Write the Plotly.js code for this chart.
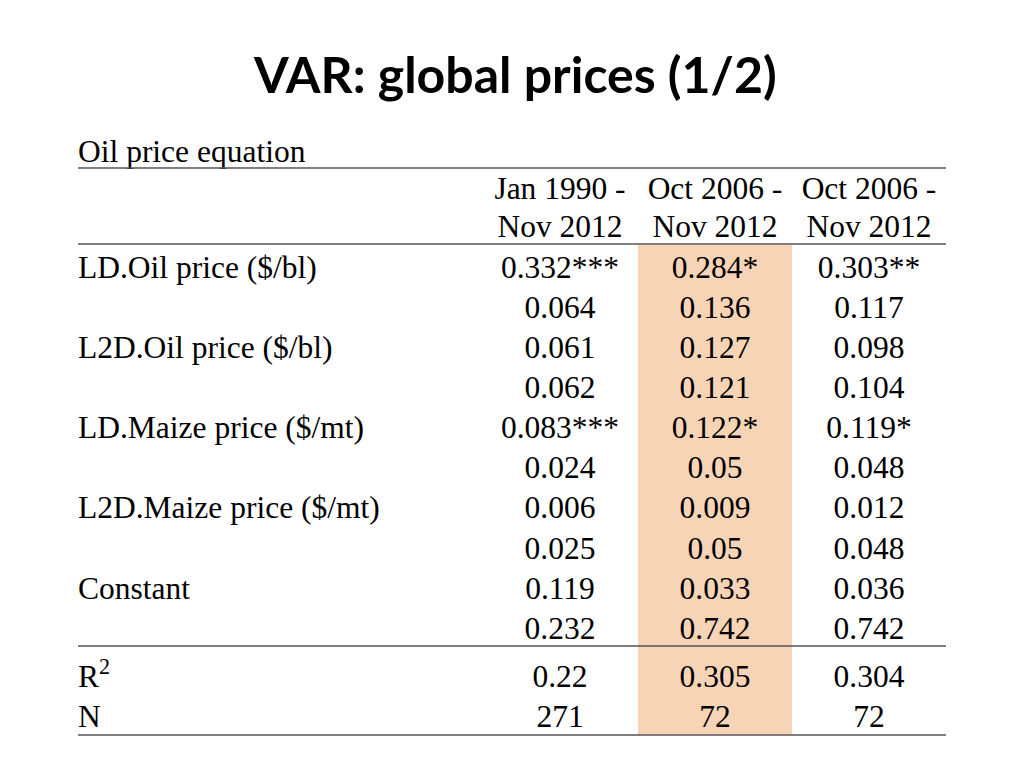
<!DOCTYPE html>
<html>
<head>
<meta charset="utf-8">
<script src="https://cdn.plot.ly/plotly-3.0.1.min.js"></script>
<style>html,body{margin:0;padding:0;background:#fff;}#chart{width:1024px;height:768px;}</style>
</head>
<body>
<div id="chart"></div>
<script>
// ---- data ----
const titleText = "VAR: global prices (1/2)";
const tableCaption = "Oil price equation";
const columnHeadTop = ["Jan 1990 -", "Oct 2006 -", "Oct 2006 -"];
const columnHeadBottom = ["Nov 2012", "Nov 2012", "Nov 2012"];
const rowLabels = ["LD.Oil price ($/bl)", "", "L2D.Oil price ($/bl)", "", "LD.Maize price ($/mt)", "", "L2D.Maize price ($/mt)", "", "Constant", ""];
const col1 = ["0.332***", "0.064", "0.061", "0.062", "0.083***", "0.024", "0.006", "0.025", "0.119", "0.232"];
const col2 = ["0.284*", "0.136", "0.127", "0.121", "0.122*", "0.05", "0.009", "0.05", "0.033", "0.742"];
const col3 = ["0.303**", "0.117", "0.098", "0.104", "0.119*", "0.048", "0.012", "0.048", "0.036", "0.742"];
const statLabels = ["R<sup>2</sup>", "N"];
const stat1 = ["0.22", "271"];
const stat2 = ["0.305", "72"];
const stat3 = ["0.304", "72"];

// ---- layout geometry ----
const colX = [560, 715, 869];
const labelX = 78;
const rowY = rowLabels.map((_, i) => 270 + i * 40.1);
const statY = statLabels.map((_, i) => 679 + i * 40);
const headY = [191, 229];
const serif = "Liberation Serif";
const fs = 31.5;
const ink = "#000000";

const cols = [col1, col2, col3];
const stats = [stat1, stat2, stat3];
const traces = [];

const labX = [], labY = [], labT = [];
rowLabels.forEach((t, i) => { if (t) { labX.push(labelX); labY.push(rowY[i]); labT.push(t); } });

traces.push({
  type: "scatter", mode: "text", x: labX, y: labY, text: labT,
  textposition: "middle right", textfont: {family: serif, size: fs, color: ink}, hoverinfo: "skip", showlegend: false
});
traces.push({
  type: "scatter", mode: "text", x: statLabels.map(() => labelX), y: statY, text: statLabels,
  textposition: "middle right", textfont: {family: serif, size: fs, color: ink}, hoverinfo: "skip", showlegend: false
});
traces.push({
  type: "scatter", mode: "text", x: [labelX], y: [154], text: [tableCaption],
  textposition: "middle right", textfont: {family: serif, size: fs, color: ink}, hoverinfo: "skip", showlegend: false
});
cols.forEach((c, k) => {
  traces.push({
    type: "scatter", mode: "text", x: c.map(() => colX[k]), y: rowY, text: c,
    textposition: "middle center", textfont: {family: serif, size: fs, color: ink}, hoverinfo: "skip", showlegend: false
  });
  traces.push({
    type: "scatter", mode: "text", x: stats[k].map(() => colX[k]), y: statY, text: stats[k],
    textposition: "middle center", textfont: {family: serif, size: fs, color: ink}, hoverinfo: "skip", showlegend: false
  });
  traces.push({
    type: "scatter", mode: "text", x: [colX[k], colX[k]], y: headY, text: [columnHeadTop[k], columnHeadBottom[k]],
    textposition: "middle center", textfont: {family: serif, size: fs, color: ink}, hoverinfo: "skip", showlegend: false
  });
});

const lineStyle = {color: "#555555", width: 1.5};
const shapes = [
  {type: "rect", xref: "x", yref: "y", x0: 638, x1: 792, y0: 245, y1: 735, fillcolor: "#F8D4B7", line: {width: 0}, layer: "below"},
  {type: "line", xref: "x", yref: "y", x0: 78, x1: 946, y0: 168, y1: 168, line: lineStyle},
  {type: "line", xref: "x", yref: "y", x0: 78, x1: 946, y0: 244, y1: 244, line: lineStyle},
  {type: "line", xref: "x", yref: "y", x0: 78, x1: 946, y0: 646, y1: 646, line: lineStyle},
  {type: "line", xref: "x", yref: "y", x0: 78, x1: 946, y0: 735, y1: 735, line: lineStyle}
];

const layout = {
  width: 1024, height: 768,
  margin: {l: 0, r: 0, t: 0, b: 0},
  paper_bgcolor: "#ffffff", plot_bgcolor: "#ffffff",
  xaxis: {range: [0, 1024], visible: false, fixedrange: true},
  yaxis: {range: [768, 0], visible: false, fixedrange: true},
  shapes: shapes,
  annotations: [{
    text: "<b>" + titleText + "</b>", xref: "x", yref: "y", x: 515, y: 74,
    showarrow: false, font: {family: "Lato, Open Sans, sans-serif", size: 50, color: "#000"},
    xanchor: "center", yanchor: "middle"
  }],
  showlegend: false
};

Plotly.newPlot("chart", traces, layout, {staticPlot: true, displayModeBar: false});
</script>
</body>
</html>
